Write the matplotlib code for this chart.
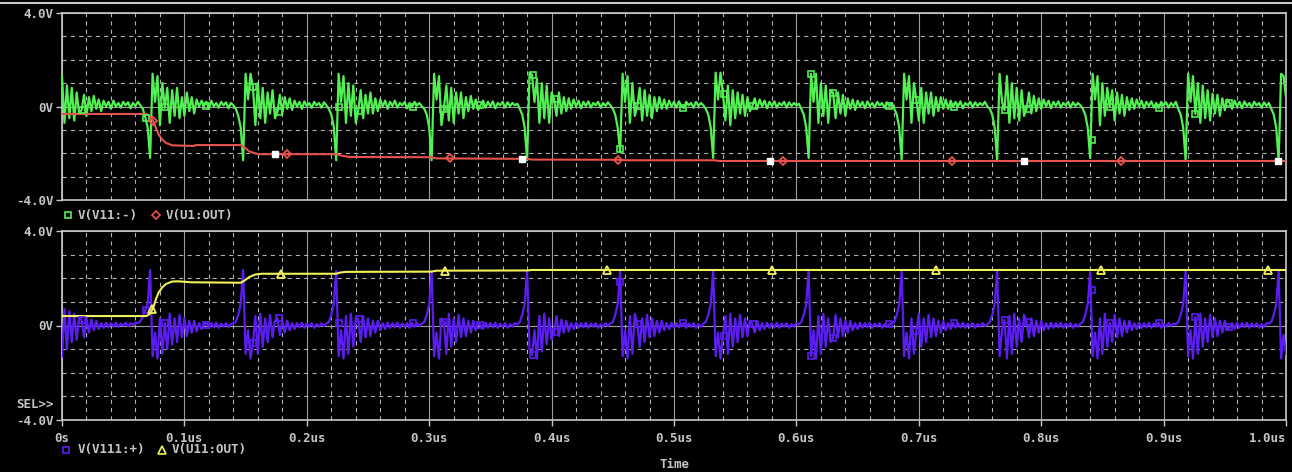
import numpy as np
import matplotlib
matplotlib.use('Agg')
import matplotlib.pyplot as plt
from matplotlib.lines import Line2D
from matplotlib.ticker import MultipleLocator, FixedLocator, FixedFormatter

# ---------------- data (time in us, values in V) ----------------
STEP_US = 0.002  # sample spacing of the noisy traces

# V(V11:-)  (green, top panel) -- one row per switching event
v_v11_minus = [
    1.3, -0.7, 0.9, -0.5, 0.8, -0.6, 0.6, -0.3, -0.15, 0.5, -0.4, 0.4, -0.2, 0.45, -0.1, 0.3, -0.2, 0.25, 0.0, 0.2, -0.1, 0.25, 0.0, 0.15, -0.05, 0.2, 0.05, 0.18, -0.08, 0.15, 0.02, 0.2, 0.05, -0.1, -0.45, -0.9,
    -2.2, 1.4, 0.2, 1.3, -0.8, 1.0, -0.05, 0.8, -0.7, 0.7, -0.4, 0.8, -0.5, 0.4, -0.4, 0.6, -0.2, 0.4, -0.3, 0.3, 0.0, 0.25, 0.02, 0.2, -0.1, 0.25, 0.0, 0.15, -0.05, 0.2, 0.05, 0.18, -0.08, 0.15, 0.05, -0.1, -0.4, -0.9,
    -2.3, 1.4, 0.3, 1.4, 0.83, -0.8, 1.0, -0.5, 0.8, -0.7, 0.6, -0.3, 0.7, -0.5, -0.24, 0.5, -0.3, 0.4, -0.1, 0.35, -0.15, 0.25, 0.0, 0.2, -0.1, 0.22, 0.02, 0.15, -0.06, 0.2, 0.05, 0.15, -0.05, 0.18, 0.05, -0.1, -0.35, -0.85,
    -2.3, 1.4, 0.2, 1.3, -0.7, 1.0, -0.4, 0.9, -0.7, -0.19, 0.7, -0.5, 0.5, -0.3, 0.6, -0.3, 0.35, -0.2, 0.3, 0.0, 0.25, -0.1, 0.2, 0.02, 0.25, -0.05, 0.15, 0.05, 0.2, -0.08, 0.15, -0.02, 0.2, 0.05, 0.15, 0.0, -0.1, -0.35, -0.9,
    -2.3, 1.4, 0.3, 1.3, -0.8, -0.1, 0.9, -0.6, 0.8, -0.7, 0.6, -0.3, 0.6, -0.5, 0.4, -0.2, 0.45, -0.1, 0.3, -0.15, 0.06, 0.25, -0.05, 0.2, 0.0, 0.22, -0.08, 0.15, 0.05, 0.2, -0.05, 0.18, 0.02, 0.15, 0.05, 0.12, -0.1, -0.35, -0.9,
    -2.3, 1.45, 1.35, 0.2, 1.2, -0.7, 1.0, -0.5, 0.9, -0.7, 0.6, 0.32, -0.4, 0.6, -0.3, 0.4, -0.2, 0.35, -0.1, 0.3, 0.0, 0.25, -0.08, 0.2, 0.02, 0.22, -0.05, 0.15, 0.05, 0.2, -0.05, 0.15, 0.02, 0.18, 0.05, -0.1, -0.35, -0.9,
    -1.95, 1.4, 0.2, 1.3, -0.7, 1.0, -0.4, 0.02, 0.8, -0.6, 0.7, -0.4, 0.5, -0.5, 0.4, -0.2, 0.4, -0.1, 0.3, -0.1, 0.25, 0.0, 0.2, -0.05, 0.22, 0.02, -0.06, 0.2, 0.05, 0.15, -0.05, 0.2, 0.02, 0.15, 0.05, -0.1, -0.35, -0.9,
    -2.2, 1.45, 0.3, 1.45, 0.53, -0.6, 0.9, -0.8, 0.7, -0.5, 0.6, -0.3, 0.5, -0.4, 0.4, -0.2, 0.02, 0.35, -0.1, 0.3, 0.0, 0.25, -0.08, 0.2, 0.02, 0.22, -0.05, 0.15, 0.05, 0.2, -0.05, 0.18, 0.02, 0.15, 0.05, 0.12, -0.1, -0.35, -0.9,
    -2.2, 1.4, 0.2, 1.4, -0.7, 1.0, -0.4, 0.9, -0.7, 0.7, 0.58, -0.5, 0.6, -0.3, 0.5, -0.4, 0.35, -0.1, 0.3, -0.15, 0.25, 0.0, 0.2, -0.08, 0.22, 0.02, 0.15, -0.05, 0.2, 0.05, 0.15, -0.05, 0.18, 0.02, 0.15, -0.1, -0.35, -0.9,
    -2.3, 1.4, 0.3, 1.3, -0.7, 1.0, 0.28, -0.6, 0.8, -0.7, 0.6, -0.3, 0.6, -0.4, 0.4, -0.2, 0.4, -0.1, 0.3, -0.1, 0.25, -0.02, 0.2, 0.0, 0.22, -0.08, 0.15, 0.05, 0.2, -0.05, 0.18, 0.02, 0.15, 0.05, 0.2, 0.0, -0.1, -0.35, -0.9,
    -2.3, 1.4, 0.2, -0.15, 1.3, -0.7, 1.0, -0.5, 0.8, -0.6, 0.7, -0.4, -0.11, 0.6, -0.3, 0.45, -0.2, 0.35, -0.1, 0.3, 0.0, 0.25, -0.08, 0.2, 0.02, 0.22, -0.05, 0.15, 0.05, 0.2, -0.05, 0.18, 0.02, 0.15, 0.05, -0.1, -0.35, -0.9,
    -2.2, 1.4, 0.3, 1.3, -0.8, 1.0, -0.4, 0.8, -0.02, 0.7, -0.6, 0.6, -0.3, 0.5, -0.4, 0.4, -0.15, 0.35, -0.1, 0.3, 0.0, 0.25, -0.08, 0.2, 0.02, 0.22, -0.05, 0.15, -0.06, 0.2, 0.05, 0.18, -0.05, 0.15, 0.02, 0.2, -0.1, -0.35, -0.9,
    -2.3, 1.4, 0.2, 1.3, -0.32, 1.0, -0.7, 0.9, -0.5, 0.7, -0.6, 0.55, -0.3, 0.5, -0.4, 0.35, -0.15, 0.3, 0.15, -0.1, 0.25, 0.0, 0.2, -0.08, 0.22, 0.02, 0.15, -0.05, 0.2, 0.05, 0.15, -0.05, 0.18, 0.02, 0.15, -0.1, -0.35, -0.9,
    -2.3, 1.4, 1.3, 0.4,
]

# V(V111:+)  (blue, bottom panel)
v_v111_plus = [
    -1.3, 0.7, -1.0, 0.6, -0.7, 0.5, -0.6, 0.4, 0.23, -0.5, 0.3, -0.3, 0.25, -0.2, 0.2, -0.15, 0.1, -0.1, 0.12, -0.08, 0.1, -0.05, 0.12, -0.06, 0.08, 0.0, 0.12, -0.04, 0.1, 0.02, 0.12, 0.1, 0.18, 0.35, 0.66, 0.9,
    2.35, -1.3, -0.3, -1.4, 0.3, -1.2, 0.11, -1.0, 0.5, -0.8, 0.3, -0.7, 0.45, -0.5, 0.3, -0.45, 0.2, -0.3, 0.2, -0.25, 0.1, -0.15, 0.02, 0.12, -0.1, 0.1, -0.08, 0.12, -0.1, 0.08, -0.05, 0.1, -0.08, 0.06, 0.1, 0.15, 0.45, 0.9,
    2.35, -1.2, -0.2, -1.4, -0.74, 0.4, -1.2, 0.5, -0.9, 0.3, -0.7, 0.45, -0.5, 0.2, 0.32, -0.4, 0.2, -0.3, 0.2, -0.2, 0.1, -0.15, 0.1, -0.08, 0.12, -0.1, 0.08, -0.05, 0.1, -0.1, 0.06, -0.05, 0.1, -0.02, 0.08, 0.15, 0.45, 0.9,
    2.3, -1.3, -0.2, -1.4, 0.4, -1.2, 0.5, -0.9, 0.3, 0.28, -0.7, 0.4, -0.5, 0.3, -0.45, 0.2, -0.3, 0.2, -0.2, 0.1, -0.15, 0.12, -0.1, 0.1, -0.08, 0.12, -0.1, 0.08, -0.05, 0.1, -0.1, 0.11, -0.05, 0.1, -0.02, 0.08, 0.15, 0.45, 0.9,
    2.3, -1.3, -0.3, -1.4, 0.3, 0.15, -1.2, 0.5, -0.9, 0.3, -0.7, 0.45, -0.5, 0.3, -0.45, 0.2, -0.3, 0.2, -0.2, 0.1, 0.02, -0.15, 0.12, -0.1, 0.1, -0.08, 0.12, -0.1, 0.08, -0.05, 0.1, -0.1, 0.06, -0.05, 0.1, 0.05, 0.15, 0.45, 0.9,
    2.3, -1.0, -1.25, -0.2, -1.4, 0.4, -1.1, 0.5, -0.8, 0.3, -0.6, -0.28, 0.4, -0.45, 0.25, -0.3, 0.2, -0.25, 0.1, -0.15, 0.12, -0.1, 0.1, -0.08, 0.12, -0.1, 0.08, -0.05, 0.1, -0.1, 0.06, -0.05, 0.1, -0.02, 0.08, 0.15, 0.45, 0.9,
    2.3, -1.3, -0.2, -1.4, 0.4, -1.2, 0.5, 0.06, -0.9, 0.3, -0.7, 0.45, -0.5, 0.3, -0.45, 0.2, -0.3, 0.2, -0.2, 0.1, -0.15, 0.12, -0.1, 0.1, -0.08, 0.05, 0.11, -0.1, 0.08, -0.05, 0.1, -0.1, 0.06, -0.05, 0.08, 0.15, 0.45, 0.9,
    2.35, -1.3, -0.3, -1.4, -0.44, 0.4, -1.2, 0.5, -0.9, 0.3, -0.7, 0.45, -0.5, 0.3, -0.45, 0.2, 0.06, -0.3, 0.2, -0.2, 0.1, -0.15, 0.12, -0.1, 0.1, -0.08, 0.12, -0.1, 0.08, -0.05, 0.1, -0.1, 0.06, -0.05, 0.1, 0.05, 0.15, 0.45, 0.9,
    2.35, -1.29, -0.2, -1.4, 0.4, -1.2, 0.5, -0.9, 0.3, -0.7, -0.53, 0.45, -0.5, 0.3, -0.45, 0.2, -0.3, 0.2, -0.2, 0.1, -0.15, 0.12, -0.1, 0.1, -0.08, 0.12, -0.1, 0.08, -0.05, 0.1, -0.1, 0.06, -0.05, 0.06, 0.08, 0.15, 0.45, 0.9,
    2.3, -1.3, -0.3, -1.4, 0.3, -1.2, -0.23, 0.5, -0.9, 0.3, -0.7, 0.45, -0.5, 0.3, -0.45, 0.2, -0.3, 0.2, -0.2, 0.1, -0.15, 0.11, -0.1, 0.1, -0.08, 0.12, -0.1, 0.08, -0.05, 0.1, -0.1, 0.06, -0.05, 0.1, -0.02, 0.05, 0.15, 0.45, 0.9,
    2.3, -1.3, -0.2, 0.23, -1.4, 0.4, -1.2, 0.5, -0.9, 0.3, -0.7, 0.45, 0.15, -0.5, 0.3, -0.45, 0.2, -0.3, 0.2, -0.2, 0.1, -0.15, 0.12, -0.1, 0.1, -0.08, 0.12, -0.1, 0.08, -0.05, 0.1, -0.1, 0.06, -0.05, 0.08, 0.15, 0.45, 0.9,
    2.25, -1.3, -0.3, -1.4, 0.3, -1.2, 0.5, -0.9, 0.11, -0.7, 0.45, -0.5, 0.3, -0.45, 0.2, -0.3, 0.2, -0.2, 0.1, -0.15, 0.12, -0.1, 0.1, -0.08, 0.12, -0.1, 0.08, -0.05, 0.11, -0.1, 0.06, -0.05, 0.1, -0.02, 0.08, 0.05, 0.15, 0.45, 0.9,
    2.3, -1.3, -0.2, -1.4, 0.36, -1.2, 0.5, -0.9, 0.3, -0.7, 0.45, -0.5, 0.3, -0.45, 0.2, -0.3, 0.2, -0.2, -0.06, 0.1, -0.15, 0.12, -0.1, 0.1, -0.08, 0.12, -0.1, 0.08, -0.05, 0.1, -0.1, 0.06, -0.05, 0.1, 0.08, 0.15, 0.45, 0.9,
    2.3, -1.4, -0.4, -1.2,
]

# V(U1:OUT)  (red, top panel) breakpoints
red_t = [0.0, 0.069, 0.072, 0.0745, 0.077, 0.079, 0.082, 0.085, 0.090, 0.108, 0.109, 0.146, 0.149,
         0.153, 0.158, 0.162, 0.224, 0.228, 0.235, 0.302, 0.306, 0.380, 0.384, 0.456, 0.460, 0.533, 0.537, 1.0]
red_v = [-0.32, -0.32, -0.42, -0.62, -0.95, -1.2, -1.42, -1.56, -1.66, -1.69, -1.65, -1.65, -1.75,
         -1.92, -2.01, -2.04, -2.04, -2.10, -2.16, -2.17, -2.22, -2.24, -2.27, -2.28, -2.30, -2.30, -2.33, -2.33]

# V(U11:OUT)  (yellow, bottom panel) breakpoints
yel_t = [0.0, 0.069, 0.072, 0.0745, 0.077, 0.079, 0.082, 0.085, 0.090, 0.095, 0.105, 0.146, 0.149,
         0.153, 0.158, 0.163, 0.224, 0.227, 0.232, 0.302, 0.306, 0.380, 0.384, 1.0]
yel_v = [0.40, 0.40, 0.50, 0.75, 1.15, 1.40, 1.62, 1.76, 1.86, 1.87, 1.83, 1.81, 1.90,
         2.05, 2.16, 2.19, 2.19, 2.24, 2.27, 2.28, 2.32, 2.33, 2.35, 2.35]

# trace symbols
sq_mark_t = [0.0163, 0.0686, 0.0842, 0.1176, 0.1560, 0.1773, 0.2263, 0.2426, 0.2868, 0.3113,
             0.3415, 0.3848, 0.4028, 0.4559, 0.4706, 0.5074, 0.5408, 0.5645, 0.6119, 0.6299,
             0.6757, 0.6977, 0.7288, 0.7704, 0.7892, 0.8415, 0.8562, 0.8962, 0.9256, 0.9534]
green_mark_v = [-0.15, -0.49, -0.02, 0.02, 0.83, -0.24, -0.02, -0.19, -0.02, -0.11,
                0.06, 1.35, 0.32, -1.82, 0.02, -0.06, 0.53, 0.02, 1.39, 0.58,
                0.02, 0.28, -0.02, -0.15, -0.11, -1.43, -0.02, -0.06, -0.32, 0.15]
blue_mark_v = [0.23, 0.66, 0.11, 0.02, -0.74, 0.32, 0.11, 0.28, 0.11, 0.15,
               0.02, -1.25, -0.28, 1.84, 0.06, 0.11, -0.44, 0.06, -1.29, -0.53,
               0.06, -0.23, 0.11, 0.23, 0.15, 1.50, 0.11, 0.11, 0.36, -0.06]
red_diamond_t = [0.0743, 0.1838, 0.3170, 0.4542, 0.5891, 0.7271, 0.8652]
white_sq_t = [0.1740, 0.3758, 0.5784, 0.7859, 0.9935]
yel_tri_t = [0.0739, 0.1793, 0.3125, 0.4450, 0.5801, 0.7141, 0.8486, 0.9850]

x_ticks = [0.0, 0.1, 0.2, 0.3, 0.4, 0.5, 0.6, 0.7, 0.8, 0.9, 1.0]
x_labels = ['0s', '0.1us', '0.2us', '0.3us', '0.4us', '0.5us', '0.6us', '0.7us', '0.8us', '0.9us', '1.0us']
y_ticks = [-4.0, 0.0, 4.0]
y_labels = ['-4.0V', '0V', '4.0V']

# ---------------- style ----------------
W, H = 1292, 472
BG = 'black'
TXT = '#c4c4c4'
FRAME = '#c8c8c8'
GRID_MAJ = '#9c9c9c'
GRID_MIN = '#b0b0b0'
GREEN = '#52f052'
RED = '#e8524c'
BLUE = '#5c1cf4'
YELLOW = '#f2f25a'
FONT = dict(family='DejaVu Sans Mono', size=9, weight='bold', color=TXT)

plt.rcParams['lines.scale_dashes'] = False

fig = plt.figure(figsize=(W / 100, H / 100), dpi=100, facecolor=BG)


def fx(px):
    return px / W


def fy(py):
    return 1 - py / H


def make_axes(top_px, bot_px, show_x):
    ax = fig.add_axes([fx(62), fy(bot_px), fx(1286) - fx(62), fy(top_px) - fy(bot_px)])
    ax.set_facecolor(BG)
    ax.set_xlim(0, 1.0)
    ax.set_ylim(-4, 4)
    ax.xaxis.set_major_locator(FixedLocator(x_ticks))
    ax.xaxis.set_minor_locator(MultipleLocator(0.02))
    ax.yaxis.set_major_locator(FixedLocator(y_ticks))
    ax.yaxis.set_major_formatter(FixedFormatter(y_labels))
    ax.yaxis.set_minor_locator(MultipleLocator(1.0))
    ax.grid(True, which='major', color=GRID_MAJ, lw=0.8, ls='-')
    ax.grid(True, which='minor', color=GRID_MIN, lw=0.8, ls=(0, (3, 3)))
    ax.set_axisbelow(True)
    for s in ax.spines.values():
        s.set_color(FRAME)
        s.set_linewidth(1.2)
    ax.tick_params(which='minor', length=0)
    ax.tick_params(axis='y', which='major', length=4, width=1, color=FRAME, pad=2,
                   labelcolor=TXT, labelsize=9)
    for lab in ax.get_yticklabels():
        lab.set_fontfamily('DejaVu Sans Mono')
        lab.set_fontweight('bold')
    if show_x:
        ax.xaxis.set_major_formatter(FixedFormatter(x_labels))
        ax.tick_params(axis='x', which='major', length=4, width=1, color=FRAME, pad=5,
                       labelcolor=TXT, labelsize=9)
        for lab in ax.get_xticklabels():
            lab.set_fontfamily('DejaVu Sans Mono')
            lab.set_fontweight('bold')
        ax.get_xticklabels()[-1].set_horizontalalignment('right')
        ax.get_xticklabels()[-1].set_x(1.0)
    else:
        ax.tick_params(axis='x', which='major', length=0, labelbottom=False)
    return ax


ax1 = make_axes(13, 200, False)
ax2 = make_axes(231, 420, True)

t_green = np.arange(len(v_v11_minus)) * STEP_US
t_blue = np.arange(len(v_v111_plus)) * STEP_US

# top panel
ax1.plot(t_green, v_v11_minus, color=GREEN, lw=1.6, zorder=3)
ax1.plot(red_t, red_v, color=RED, lw=1.5, zorder=4)
ax1.plot(sq_mark_t, green_mark_v, ls='none', marker='s', ms=5, mfc='none', mec=GREEN, mew=1.2, zorder=5)
ax1.plot(red_diamond_t, np.interp(red_diamond_t, red_t, red_v), ls='none', marker='D', ms=4.5,
         mfc='none', mec=RED, mew=1.3, zorder=6)
ax1.plot(white_sq_t, np.interp(white_sq_t, red_t, red_v), ls='none', marker='s', ms=5,
         mfc='white', mec='white', zorder=6)

# bottom panel
ax2.plot(t_blue, v_v111_plus, color=BLUE, lw=1.6, zorder=3)
ax2.plot(yel_t, yel_v, color=YELLOW, lw=1.5, zorder=4)
ax2.plot(sq_mark_t, blue_mark_v, ls='none', marker='s', ms=5, mfc='none', mec=BLUE, mew=1.2, zorder=5)
ax2.plot(yel_tri_t, np.interp(yel_tri_t, yel_t, yel_v), ls='none', marker='^', ms=6,
         mfc='none', mec=YELLOW, mew=1.3, zorder=6)


# legends (PSpice style trace labels)
def legend_item(xm, y, marker, color, ms, label, xt):
    fig.add_artist(Line2D([fx(xm)], [fy(y)], transform=fig.transFigure, ls='none', marker=marker,
                          ms=ms, mfc='none', mec=color, mew=1.2))
    fig.text(fx(xt), fy(y), label, ha='left', va='center', **FONT)


legend_item(68, 215, 's', GREEN, 5, 'V(V11:-)', 78)
legend_item(156, 215, 'D', RED, 4, 'V(U1:OUT)', 166)
legend_item(66, 450, 's', BLUE, 5, 'V(V111:+)', 78)
legend_item(162, 450, '^', YELLOW, 5.5, 'V(U11:OUT)', 172)

fig.text(fx(16), fy(404), 'SEL>>', ha='left', va='center', **FONT)
fig.text(fx(675), fy(464), 'Time', ha='center', va='center', **FONT)

# window frame line at top
fig.add_artist(Line2D([0, 1], [fy(2.5), fy(2.5)], transform=fig.transFigure, color='#c8c8c8', lw=1.5))

fig.savefig('out.png', dpi=100, facecolor=BG)
